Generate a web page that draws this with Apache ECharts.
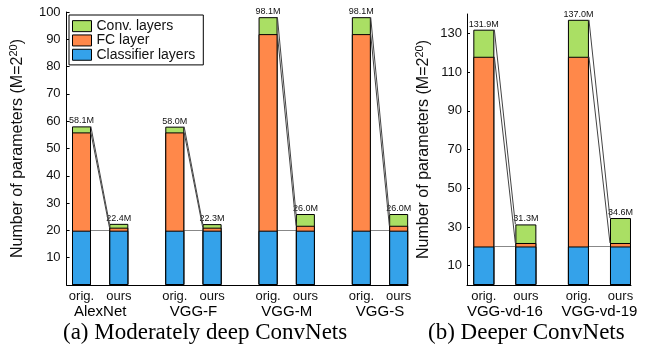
<!DOCTYPE html>
<html>
<head>
<meta charset="utf-8">
<script src="https://cdn.jsdelivr.net/npm/echarts@6/dist/echarts.min.js"></script>
<style>
html,body{margin:0;padding:0;background:#fff;}
#chart{width:645px;height:348px;}
</style>
</head>
<body>
<div id="chart"></div>
<script>
// ---------- data ----------
const groupsLeft = ['AlexNet', 'VGG-F', 'VGG-M', 'VGG-S'];
const groupsRight = ['VGG-vd-16', 'VGG-vd-19'];
const barNames = ['orig.', 'ours'];
const posLeft = [1, 2, 3.5, 4.5, 6, 7, 8.5, 9.5];
const posRight = [1, 2, 3.25, 4.25];

const classifierLeft = [19.9, 19.9, 19.9, 19.9, 19.9, 19.9, 19.9, 19.9];
const fcLeft         = [36.0, 1.1, 36.0, 1.1, 72.0, 1.8, 72.0, 1.8];
const convLeft       = [2.2, 1.4, 2.1, 1.3, 6.2, 4.3, 6.2, 4.3];
const totalLeft      = ['58.1M', '22.4M', '58.0M', '22.3M', '98.1M', '26.0M', '98.1M', '26.0M'];

const classifierRight = [19.9, 19.9, 19.9, 19.9];
const fcRight         = [98.0, 1.8, 98.0, 1.8];
const convRight       = [14.0, 9.6, 19.1, 12.9];
const totalRight      = ['131.9M', '31.3M', '137.0M', '34.6M'];

const yTicksLeft = [10, 20, 30, 40, 50, 60, 70, 80, 90, 100];
const yTicksRight = [10, 30, 50, 70, 90, 110, 130];

const seriesNames = ['Classifier layers', 'FC layer', 'Conv. layers'];
const colors = ['#34A2EA', '#FF884A', '#AADF64'];

// ---------- helpers ----------
function groupPos(pos) { const g = []; for (let i = 0; i < pos.length; i += 2) g.push((pos[i] + pos[i + 1]) / 2); return g; }
const gpLeft = groupPos(posLeft), gpRight = groupPos(posRight);

// cumulative tops of the stacked segments (classifier, classifier+FC, total)
function tops(cls, fc, conv) {
  const a = cls.slice();
  const b = cls.map((v, i) => v + fc[i]);
  const c = b.map((v, i) => v + conv[i]);
  return [a, b, c];
}
const topsLeft = tops(classifierLeft, fcLeft, convLeft);
const topsRight = tops(classifierRight, fcRight, convRight);

function connectors(pos, tp, half) {
  const slant = [], flat = [];
  for (let i = 0; i < pos.length; i += 2) {
    const a = pos[i] + half, b = pos[i + 1] - half;
    slant.push({ coords: [[a, tp[2][i]], [b, tp[2][i + 1]]] });
    slant.push({ coords: [[a, tp[1][i]], [b, tp[1][i + 1]]] });
    flat.push({ coords: [[a, tp[0][i]], [b, tp[0][i + 1]]] });
  }
  return { slant, flat };
}
const conL = connectors(posLeft, topsLeft, 0.25);
const conR = connectors(posRight, topsRight, 0.25);

const font = 'Liberation Sans';
const txt = '#111';

function barSeries(gi, pos, tp, totals, bw) {
  const mk = (k) => ({
    type: 'bar', name: seriesNames[k], xAxisIndex: gi * 2, yAxisIndex: gi,
    barWidth: bw, barGap: '-100%', data: tp[k].map((v, i) => [pos[i], v]),
    itemStyle: { color: colors[k], borderColor: '#000', borderWidth: 1 },
    emphasis: { disabled: true }, z: 2
  });
  // draw tallest first so lower segments sit on top of it
  const s = [mk(2), mk(1), mk(0)];
  s[0].label = {
    show: true, position: 'top', distance: 1, fontSize: 9, fontFamily: font, color: txt,
    formatter: p => totals[p.dataIndex]
  };
  return s;
}

function linesSeries(gi, con) {
  return [
    { type: 'lines', coordinateSystem: 'cartesian2d', xAxisIndex: gi * 2, yAxisIndex: gi,
      data: con.slant, lineStyle: { color: '#444', width: 1, opacity: 1 }, silent: true, z: 3 },
    { type: 'lines', coordinateSystem: 'cartesian2d', xAxisIndex: gi * 2, yAxisIndex: gi,
      data: con.flat, lineStyle: { color: '#888', width: 1, opacity: 1 }, silent: true, z: 1 }
  ];
}

function xAxes(gi, pos, gp, groups, min, max) {
  return [
    { gridIndex: gi, type: 'value', min: min, max: max, position: 'bottom',
      axisLine: { show: true, onZero: false, lineStyle: { color: '#000', width: 1 } },
      axisTick: { show: false }, splitLine: { show: false },
      axisLabel: { customValues: pos, fontSize: 13, fontFamily: font, color: txt, margin: 5,
        formatter: v => { const i = pos.indexOf(v); return i < 0 ? '' : barNames[i % 2]; } } },
    { gridIndex: gi, type: 'value', min: min, max: max, position: 'bottom', offset: 14,
      axisLine: { show: false }, axisTick: { show: false }, splitLine: { show: false },
      axisLabel: { customValues: gp, fontSize: 15, fontFamily: font, color: '#000', margin: 5,
        formatter: v => { const i = gp.indexOf(v); return i < 0 ? '' : groups[i]; } } }
  ];
}

function yAxis(gi, max, ticks, margin) {
  return {
    gridIndex: gi, type: 'value', min: 0, max: max,
    axisLine: { show: true, lineStyle: { color: '#000', width: 1 } },
    axisTick: { show: true, inside: true, length: 3, customValues: ticks, lineStyle: { color: '#000' } },
    axisLabel: { customValues: ticks, fontSize: 13, fontFamily: font, color: txt, margin: margin },
    splitLine: { show: false },
    name: 'Number of parameters (M=2{s|20})',
    nameLocation: 'middle', nameGap: 33,
    nameTextStyle: { fontSize: 16, fontFamily: font, color: txt, lineHeight: 20,
      rich: { s: { fontSize: 11, fontFamily: font, color: txt, verticalAlign: 'top', lineHeight: 12 } } }
  };
}

const chart = echarts.init(document.getElementById('chart'), null, { renderer: 'canvas' });
chart.setOption({
  animation: false,
  backgroundColor: '#fff',
  textStyle: { fontFamily: font },
  title: [
    { text: '(a) Moderately deep ConvNets', left: 63, top: 321, padding: 0,
      textStyle: { fontFamily: 'Liberation Serif', fontSize: 23, fontWeight: 'normal', color: '#000' } },
    { text: '(b) Deeper ConvNets', left: 428, top: 321, padding: 0,
      textStyle: { fontFamily: 'Liberation Serif', fontSize: 23, fontWeight: 'normal', color: '#000' } }
  ],
  legend: {
    data: ['Conv. layers', 'FC layer', 'Classifier layers'],
    orient: 'vertical', left: 69, top: 15,
    itemWidth: 19, itemHeight: 11, itemGap: 0, icon: 'rect',
    itemStyle: { borderColor: '#000', borderWidth: 1 },
    backgroundColor: '#fff', borderColor: '#000', borderWidth: 1,
    padding: [4, 8, 3, 3],
    textStyle: { fontSize: 14, fontFamily: font, color: txt, lineHeight: 14.3 },
    selectedMode: false
  },
  grid: [
    { left: 61, right: 237, top: 12, bottom: 63 },
    { left: 467, right: 14, top: 14, bottom: 63 }
  ],
  xAxis: [].concat(
    xAxes(0, posLeft, gpLeft, groupsLeft, 0.6, 9.75),
    xAxes(1, posRight, gpRight, groupsRight, 0.6, 4.5)
  ),
  yAxis: [yAxis(0, 100, yTicksLeft, 6), yAxis(1, 140, yTicksRight, 5)],
  series: [].concat(
    barSeries(0, posLeft, topsLeft, totalLeft, 19),
    barSeries(1, posRight, topsRight, totalRight, 21),
    linesSeries(0, conL),
    linesSeries(1, conR)
  )
});
</script>
</body>
</html>
